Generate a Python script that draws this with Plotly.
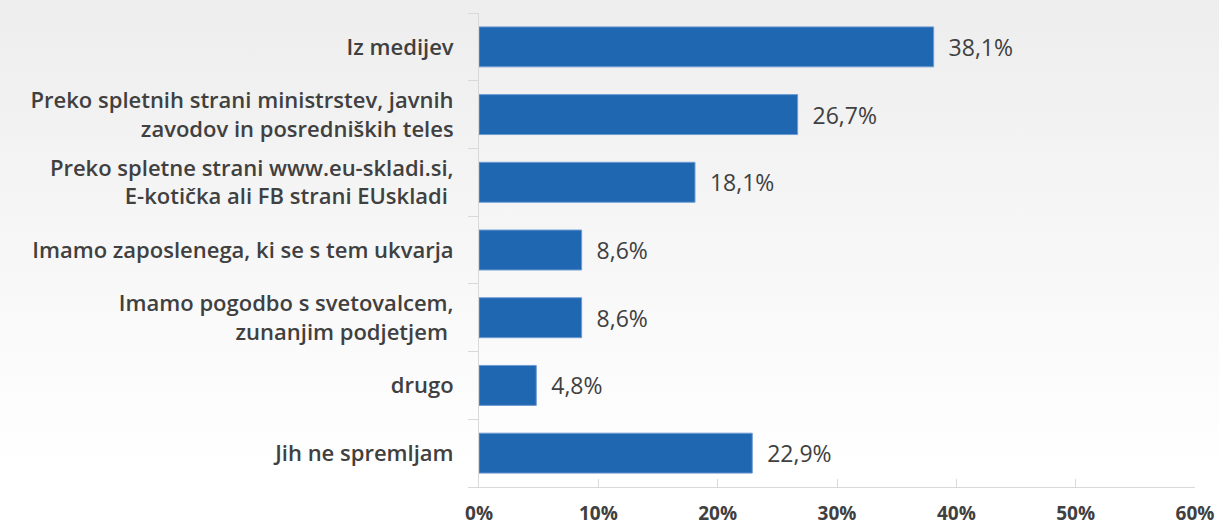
import base64
import plotly.graph_objects as go

# Podatki (od zgoraj navzdol)
kategorije = [
    "Iz medijev",
    "Preko spletnih strani ministrstev, javnih<br>zavodov in posredniških teles",
    "Preko spletne strani www.eu-skladi.si,<br>E-kotička ali FB strani EUskladi ",
    "Imamo zaposlenega, ki se s tem ukvarja",
    "Imamo pogodbo s svetovalcem,<br>zunanjim podjetjem ",
    "drugo",
    "Jih ne spremljam",
]
deleži = [38.1, 26.7, 18.1, 8.6, 8.6, 4.8, 22.9]
x_ticks = [0, 10, 20, 30, 40, 50, 60]
x_tick_labels = ["0%", "10%", "20%", "30%", "40%", "50%", "60%"]

barva = "#1f67b0"
siva = "#404040"
os_barva = "#d9d9d9"
pisava = "Open Sans"

# ozadje s prelivom (svg kot slika)
svg = (
    '<svg xmlns="http://www.w3.org/2000/svg" width="100" height="100" preserveAspectRatio="none">'
    '<defs><linearGradient id="g" x1="0" y1="0" x2="0" y2="1">'
    '<stop offset="0" stop-color="#ededed"/><stop offset="0.85" stop-color="#ffffff"/>'
    '<stop offset="1" stop-color="#ffffff"/></linearGradient></defs>'
    '<rect width="100" height="100" fill="url(#g)"/></svg>'
)
svg_uri = "data:image/svg+xml;base64," + base64.b64encode(svg.encode()).decode()

oznake = ["  " + f"{v:.1f}%".replace(".", ",") for v in deleži]

fig = go.Figure(go.Bar(
    x=deleži,
    y=kategorije,
    orientation="h",
    width=0.59,
    marker=dict(color=barva, line=dict(color="#6f9bd3", width=1)),
    text=oznake,
    textposition="outside",
    textfont=dict(family=pisava, size=23, color=siva),
    cliponaxis=False,
))

fig.update_layout(
    width=1219,
    height=527,
    margin=dict(l=479, r=24, t=13, b=40),
    paper_bgcolor="rgba(0,0,0,0)",
    plot_bgcolor="rgba(0,0,0,0)",
    showlegend=False,
    font=dict(family=pisava, color=siva),
    images=[dict(
        source=svg_uri, xref="paper", yref="paper", x=-0.7, y=1.05,
        sizex=1.8, sizey=1.2, xanchor="left", yanchor="top",
        sizing="stretch", layer="below",
    )],
)

fig.update_xaxes(
    range=[0, 60],
    tickvals=x_ticks,
    ticktext=x_tick_labels,
    tickfont=dict(family=pisava, size=19, color=siva, weight="bold"),
    ticks="inside",
    ticklen=8,
    tickcolor=os_barva,
    showline=True,
    linecolor=os_barva,
    linewidth=1,
    showgrid=False,
    zeroline=False,
    ticklabelstandoff=9,
    automargin=False,
)

fig.update_yaxes(
    categoryorder="array",
    categoryarray=kategorije[::-1],
    autorange=False,
    range=[-0.5, 6.5],
    tickson="boundaries",
    ticks="outside",
    ticklen=10,
    tickcolor=os_barva,
    tickfont=dict(family=pisava, size=22, color=siva, weight=600),
    showline=True,
    linecolor=os_barva,
    linewidth=1,
    showgrid=False,
    zeroline=False,
    ticklabelstandoff=20,
    automargin=False,
)

fig.write_html(
    "out.html",
    config={"displayModeBar": False},
    post_script="document.body.style.margin='0';document.body.style.overflow='hidden';",
)
